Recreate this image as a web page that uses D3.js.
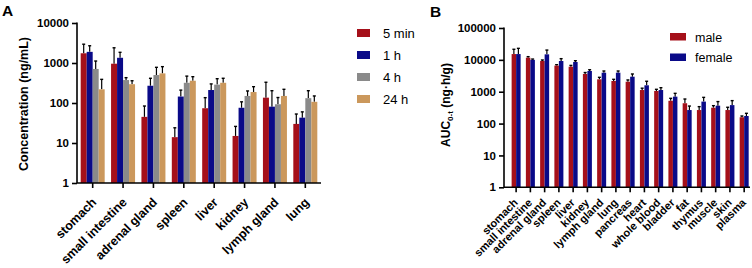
<!DOCTYPE html>
<html>
<head>
<meta charset="utf-8">
<script src="https://cdn.jsdelivr.net/npm/d3@7"></script>
<style>
  body { margin: 0; background: #fff; }
  svg { font-family: "Liberation Sans", Arial, sans-serif; }
  .tick text { font-weight: bold; font-size: 11.5px; fill: #000; }
</style>
</head>
<body>
<svg id="chart" width="752" height="268"></svg>
<script>
// panel A data
const tissuesA = ["stomach", "small intestine", "adrenal gland", "spleen", "liver", "kidney", "lymph gland", "lung"]
const timesA = ["5 min", "1 h", "4 h", "24 h"]
const colorsA = ["#A5101A", "#0A0A88", "#8A8A8A", "#CB985C"]
const meanA = [
    [1750, 960, 45, 14, 74, 15, 136, 30],
    [1900, 1350, 270, 145, 211, 76, 81, 43],
    [710, 375, 500, 320, 288, 150, 93, 132],
    [220, 295, 550, 360, 320, 188, 150, 107],
]
const upperA = [
    [2950, 2400, 84, 24, 136, 26, 330, 53],
    [2700, 1850, 415, 210, 300, 107, 203, 60],
    [1120, 430, 780, 470, 405, 200, 137, 203],
    [390, 360, 810, 455, 415, 256, 220, 150],
]
const ticksA = [1, 10, 100, 1000, 10000]

// panel B data
const tissuesB = ["stomach", "small intestine", "adrenal gland", "spleen", "liver", "kidney", "lymph gland", "lung",
    "pancreas", "heart", "whole blood", "bladder", "fat", "thymus", "muscle", "skin", "plasma"]
const sexB = ["male", "female"]
const colorsB = ["#A5101A", "#0A0A88"]
const meanB = [
    [15200, 11700, 9200, 6600, 6100, 3600, 2450, 2170, 2060, 1130, 1055, 520, 435, 266, 315, 266, 158],
    [15200, 10000, 14900, 9200, 8550, 4470, 3960, 3960, 2960, 1590, 1130, 700, 266, 490, 365, 380, 173],
]
const upperB = [
    [21500, 12600, 9900, 7050, 6700, 4000, 2830, 2450, 2340, 1290, 1190, 620, 590, 340, 365, 325, 173],
    [23000, 10600, 20300, 10900, 9400, 4900, 4470, 4470, 3600, 2130, 1340, 890, 355, 665, 490, 525, 210],
]
const ticksB = [1, 10, 100, 1000, 10000, 100000]

const svg = d3.select("#chart")

function panel(opt) {
    const g = svg.append("g")
    const x = d3.scaleBand().domain(opt.cats).range(opt.xr)
    const inner = d3.scaleBand().domain(d3.range(opt.series.length)).range([0, opt.groupW])
    const y = d3.scaleLog().domain([1, opt.ticks[opt.ticks.length - 1]]).range(opt.yr)

    opt.mean.forEach((vals, s) => {
        const sg = g.append("g")
        const data = vals.map((v, i) => ({ cat: opt.cats[i], v: v, up: opt.upper[s][i] }))
        const bx = (d) => x(d.cat) + x.bandwidth() / 2 - opt.groupW / 2 + inner(s)
        sg.selectAll("line.err")
            .data(data)
            .join("line")
            .attr("class", "err")
            .attr("x1", (d) => bx(d) + inner.bandwidth() / 2)
            .attr("x2", (d) => bx(d) + inner.bandwidth() / 2)
            .attr("y1", (d) => y(d.v))
            .attr("y2", (d) => y(d.up))
            .attr("stroke", "#000")
            .attr("stroke-width", 1.2)
        sg.selectAll("line.cap")
            .data(data)
            .join("line")
            .attr("class", "cap")
            .attr("x1", (d) => bx(d) + inner.bandwidth() / 2 - 1.5)
            .attr("x2", (d) => bx(d) + inner.bandwidth() / 2 + 1.5)
            .attr("y1", (d) => y(d.up))
            .attr("y2", (d) => y(d.up))
            .attr("stroke", "#000")
            .attr("stroke-width", 1.4)
        sg.selectAll("rect")
            .data(data)
            .join("rect")
            .attr("fill", opt.colors[s])
            .attr("x", bx)
            .attr("width", inner.bandwidth())
            .attr("y", (d) => y(d.v))
            .attr("height", (d) => y(1) - y(d.v))
    })

    const ay = d3.axisLeft(y).tickValues(opt.ticks).tickFormat(d3.format("d")).tickSize(5).tickSizeOuter(0)
    g.append("g").attr("transform", `translate(${opt.axisX},0)`).call(ay)
        .call((a) => a.select(".domain").attr("d", `M0,${opt.yr[1] - 0.5}V${opt.yr[0]}`))

    const ax = d3.axisBottom(x).tickSize(5).tickSizeOuter(0)
    const gx = g.append("g").attr("transform", `translate(0,${opt.yr[0]})`).call(ax)
    gx.select(".domain").attr("d", `M${opt.axisX},0H${opt.axisEnd}`)
    gx.selectAll(".tick text")
        .attr("text-anchor", "end")
        .attr("x", 0).attr("y", 0).attr("dy", 0)
        .attr("transform", `translate(${opt.labelOff[0]},${opt.labelOff[1]}) rotate(-45)`)
        .style("font-size", opt.labelSize)
    g.selectAll(".domain, .tick line").attr("stroke", "#000").attr("stroke-width", 1.6)
    return g
}

panel({
    cats: tissuesA, series: timesA, colors: colorsA, mean: meanA, upper: upperA, ticks: ticksA,
    xr: [77.5, 320.5], yr: [183, 23], groupW: 24, axisX: 77, axisEnd: 321,
    labelSize: "12.5px", labelOff: [4.5, 20],
})
panel({
    cats: tissuesB, series: sexB, colors: colorsB, mean: meanB, upper: upperB, ticks: ticksB,
    xr: [509, 751.3], yr: [187.3, 28], groupW: 9, axisX: 504, axisEnd: 750,
    labelSize: "11px", labelOff: [2.5, 16],
})

// titles
svg.append("text").attr("x", 2).attr("y", 16).attr("font-size", 15.5).attr("font-weight", "bold").text("A")
svg.append("text").attr("x", 430).attr("y", 16.5).attr("font-size", 15.5).attr("font-weight", "bold").text("B")
svg.append("text")
    .attr("transform", "translate(28,104) rotate(-90)")
    .attr("text-anchor", "middle").attr("font-size", 12.5).attr("font-weight", "bold")
    .text("Concentration (ng/mL)")
const tb = svg.append("text")
    .attr("transform", "translate(450,105) rotate(-90)")
    .attr("text-anchor", "middle").attr("font-size", 12).attr("font-weight", "bold")
tb.append("tspan").text("AUC")
tb.append("tspan").attr("font-size", 8).attr("dy", 3).text("0-t")
tb.append("tspan").attr("dy", -3).text(" (ng·h/g)")

// legends
const legA = svg.append("g").attr("transform", "translate(357,29)")
legA.selectAll("rect").data(timesA).join("rect")
    .attr("x", 0).attr("y", (d, i) => i * 22).attr("width", 13).attr("height", 8)
    .attr("fill", (d, i) => colorsA[i])
legA.selectAll("text").data(timesA).join("text")
    .attr("x", 26).attr("y", (d, i) => i * 22 + 9).attr("font-size", 13).text((d) => d)

const legB = svg.append("g").attr("transform", "translate(670,33)")
legB.selectAll("rect").data(sexB).join("rect")
    .attr("x", 0).attr("y", (d, i) => i * 20.5).attr("width", 16).attr("height", 7.5)
    .attr("fill", (d, i) => colorsB[i])
legB.selectAll("text").data(sexB).join("text")
    .attr("x", 25).attr("y", (d, i) => i * 20.5 + 8.5).attr("font-size", 12.5).text((d) => d)
</script>
</body>
</html>
